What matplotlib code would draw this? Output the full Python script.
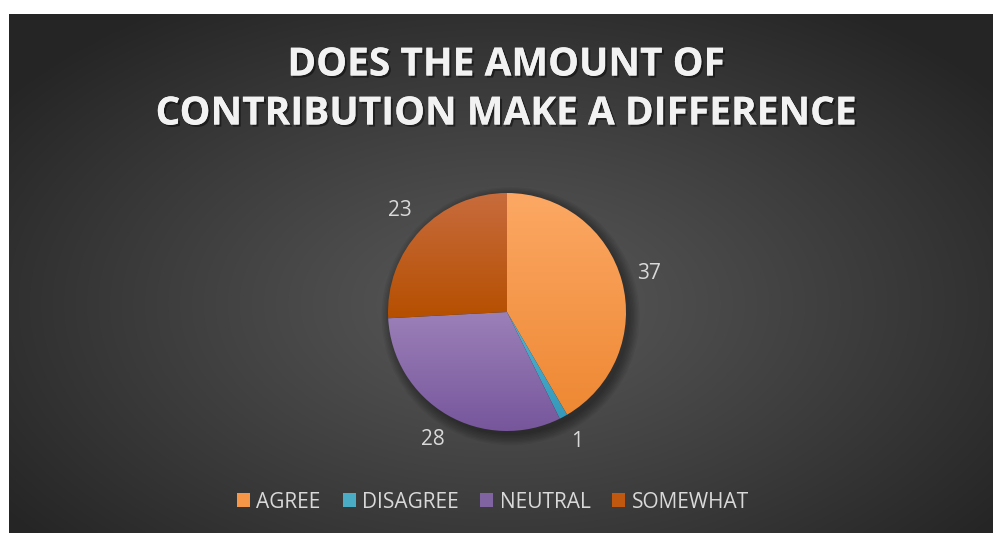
import numpy as np
import matplotlib.pyplot as plt
from matplotlib.patches import Rectangle, Circle
from matplotlib.colors import LinearSegmentedColormap, to_rgb
import matplotlib.patheffects as pe

plt.rcParams['font.family'] = ['Open Sans', 'DejaVu Sans']

categories = ['AGREE', 'DISAGREE', 'NEUTRAL', 'SOMEWHAT']
counts = [37, 1, 28, 23]
title_lines = ['DOES THE AMOUNT OF', 'CONTRIBUTION MAKE A DIFFERENCE']

# top / bottom colour of each slice gradient
top_colors = ['#fca864', '#52b4d2', '#9b80b8', '#c86c3e']
bottom_colors = ['#ee8833', '#3799ba', '#77569c', '#b54f00']
swatch_colors = ['#f79646', '#4bacc6', '#8064a2', '#c0580f']

W, H = 993, 533
fig = plt.figure(figsize=(W / 100, H / 100), dpi=100, facecolor='white')

# dark panel with a soft radial highlight
bg = fig.add_axes([9 / W, 0, (W - 9) / W, (H - 14) / H])
bg.set_axis_off()
yy, xx = np.mgrid[0:519, 0:984]
d = np.sqrt(((xx - 495) / 620.0) ** 2 + ((yy - 290) / 360.0) ** 2)
shade = np.clip(d, 0, 1) ** 1.1
c_in, c_out = np.array(to_rgb('#585858')), np.array(to_rgb('#252525'))
img = c_in[None, None, :] * (1 - shade[..., None]) + c_out[None, None, :] * shade[..., None]
bg.imshow(img, extent=[0, 984, 519, 0], aspect='auto')
bg.set_xlim(0, 984)
bg.set_ylim(519, 0)

# title
shadow = [pe.withSimplePatchShadow(offset=(1.5, -1.5), shadow_rgbFace='black', alpha=0.45), pe.Normal()]
for i, line in enumerate(title_lines):
    fig.text(506 / W, 1 - (65 + 49 * i) / H, line, ha='center', va='center',
             fontsize=28, fontweight='bold', color='#f2f2f2', path_effects=shadow)

# pie
cx, cy, r = 507, 533 - 312, 119
side = 2.4 * r
ax = fig.add_axes([(cx - side / 2) / W, (cy - side / 2) / H, side / W, side / H])
ax.set_xlim(-1.2, 1.2)
ax.set_ylim(-1.2, 1.2)
ax.set_aspect('equal')
ax.set_axis_off()

# soft shadow under the pie
for k in range(8):
    ax.add_patch(Circle((0.03, -0.035), 1.0 + 0.012 * k, color='black', alpha=0.05, lw=0, zorder=1))

wedges, _ = ax.pie(counts, startangle=90, counterclock=False, radius=1.0,
                   wedgeprops=dict(linewidth=0, zorder=2))
grad = np.linspace(0, 1, 256)[:, None]
for w, c0, c1 in zip(wedges, top_colors, bottom_colors):
    ext = w.get_path().get_extents()
    cmap = LinearSegmentedColormap.from_list('g', [c0, c1])
    w.set_facecolor('none')
    im = ax.imshow(grad, cmap=cmap, extent=[ext.x0, ext.x1, ext.y0, ext.y1],
                   aspect='auto', zorder=3, interpolation='bilinear')
    im.set_clip_path(w)

ax.set_xlim(-1.2, 1.2)
ax.set_ylim(-1.2, 1.2)

# value labels outside each slice
for w, n in zip(wedges, counts):
    ang = np.deg2rad((w.theta1 + w.theta2) / 2)
    ax.text(1.24 * np.cos(ang), 1.24 * np.sin(ang), str(n), ha='center', va='center',
            fontsize=15, color='#d9d9d9')

# legend
handles = [Rectangle((0, 0), 1, 1, facecolor=c, edgecolor='none') for c in swatch_colors]
fig.legend(handles, categories, loc='center', bbox_to_anchor=(493 / W, 31 / H), ncol=4,
           frameon=False, fontsize=15, labelcolor='#d9d9d9', handlelength=0.62,
           handleheight=0.62, handletextpad=0.3, columnspacing=1.05)

fig.savefig('out.png', dpi=100, facecolor='white')
